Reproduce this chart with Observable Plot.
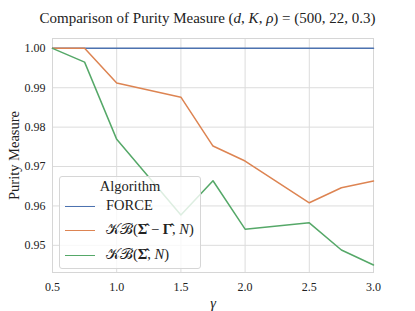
<!DOCTYPE html>
<html><head><meta charset="utf-8">
<script src="https://cdn.jsdelivr.net/npm/d3@7"></script>
<script src="https://cdn.jsdelivr.net/npm/@observablehq/plot@0.6"></script>
<style>
body{margin:0;background:#fff;}
#wrap{position:relative;width:415px;height:311px;font-family:'Liberation Serif',serif;}
#title{position:absolute;left:0;width:415px;top:10px;text-align:center;font-size:15px;color:#222;white-space:nowrap;font-family:'Liberation Serif',serif;}
#legend{position:absolute;left:59px;top:176px;width:142px;height:93px;box-sizing:border-box;background:rgba(255,255,255,0.8);border:1px solid #d6d6d6;border-radius:3px;font-size:14.5px;color:#222;font-family:'Liberation Serif',serif;}
#legend .t{position:absolute;left:0;width:100%;top:1px;text-align:center;}
#legend .it{position:absolute;left:5px;height:17px;white-space:nowrap;}
#legend .sw{display:inline-block;width:30px;height:0;border-top:1.5px solid;vertical-align:middle;margin-right:11px;}
</style></head><body>
<div id="wrap"><div id="chart"></div>
<div id="title">Comparison of Purity Measure (<i>d</i>, <i>K</i>, <i>ρ</i>) = (500, 22, 0.3)</div>
<div id="legend"></div>
</div>
<script>
const seriesNames = ["FORCE", "KB(Σ−Γ,N)", "KB(Σ,N)"];
const seriesLabels = ["FORCE", "𝒦ℬ(<b>Σ̂</b> − <b>Γ̂</b>, <i>N</i>)", "𝒦ℬ(<b>Σ̂</b>, <i>N</i>)"];
const colors = ["#4c72b0", "#dd8452", "#55a868"];
const gammaForce = [0.5, 3.0];
const valForce = [1.0, 1.0];
const gammaKBdiff = [0.5, 0.75, 1.0, 1.5, 1.75, 2.0, 2.5, 2.75, 3.0];
const valKBdiff = [1.0, 1.0, 0.9912, 0.9876, 0.9752, 0.9714, 0.9608, 0.9646, 0.9663];
const gammaKB = [0.5, 0.75, 1.0, 1.5, 1.75, 2.0, 2.5, 2.75, 3.0];
const valKB = [1.0, 0.9965, 0.9769, 0.9577, 0.9664, 0.9541, 0.9557, 0.9488, 0.9450];
const xTicks = [0.5, 1.0, 1.5, 2.0, 2.5, 3.0];
const yTicks = [0.95, 0.96, 0.97, 0.98, 0.99, 1.00];

const data = [];
gammaForce.forEach((g,i)=>data.push({s:seriesNames[0],x:g,y:valForce[i]}));
gammaKBdiff.forEach((g,i)=>data.push({s:seriesNames[1],x:g,y:valKBdiff[i]}));
gammaKB.forEach((g,i)=>data.push({s:seriesNames[2],x:g,y:valKB[i]}));

const chart = Plot.plot({
  width:415, height:311,
  marginLeft:52, marginRight:42, marginTop:38, marginBottom:39,
  style:{fontSize:"12px", color:"#222", background:"#fff", fontFamily:"'Liberation Serif',serif"},
  x:{domain:[0.5,3.0]},
  y:{domain:[0.9431,1.0025]},
  color:{domain:seriesNames, range:colors},
  marks:[
    Plot.gridX(xTicks,{stroke:"#dcdcdc",strokeOpacity:1,strokeWidth:1}),
    Plot.gridY(yTicks,{stroke:"#dcdcdc",strokeOpacity:1,strokeWidth:1}),
    Plot.frame({stroke:"#d6d6d6",strokeWidth:1}),
    Plot.axisX(xTicks,{tickSize:0,tickPadding:10,tickFormat:d3.format(".1f"),label:"γ",labelAnchor:"center",labelArrow:"none",labelOffset:35,fontSize:12}),
    Plot.axisY(yTicks,{tickSize:0,tickPadding:7,tickFormat:d3.format(".2f"),label:"Purity Measure",labelAnchor:"center",labelArrow:"none",labelOffset:44,fontSize:12}),
    Plot.line(data,{x:"x",y:"y",z:"s",stroke:"s",strokeWidth:1.5})
  ]
});
document.getElementById("chart").appendChild(chart);
chart.querySelectorAll('text').forEach(t=>t.setAttribute("font-family","Liberation Serif"));
chart.querySelectorAll('g[aria-label="y-axis label"] text, g[aria-label="x-axis label"] text').forEach(t=>t.setAttribute("font-size","14.5"));
chart.querySelectorAll('g[aria-label="x-axis label"] text').forEach(t=>t.setAttribute("font-style","italic"));

const lg = document.getElementById("legend");
let html = '<div class="t">Algorithm</div>';
const tops=[20,44,69];
seriesLabels.forEach((l,i)=>{
  html += `<div class="it" style="top:${tops[i]}px"><span class="sw" style="border-color:${colors[i]}"></span>${l}</div>`;
});
lg.innerHTML = html;
</script>
</body></html>
